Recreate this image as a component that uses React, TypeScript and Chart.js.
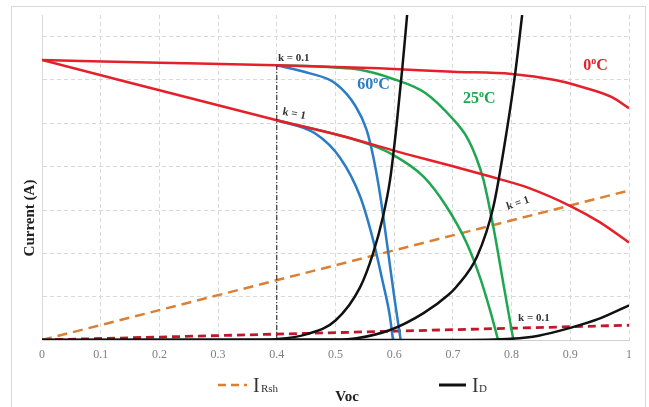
import React, { useEffect, useRef } from "react";
import { Chart, registerables } from "chart.js";

Chart.register(...registerables);

// ---- Data ----
const xTickLabels = ["0", "0.1", "0.2", "0.3", "0.4", "0.5", "0.6", "0.7", "0.8", "0.9", "1"];

// 0°C curves (red)
const red01V = [0, 0.2, 0.4, 0.574, 0.7, 0.8, 0.874, 0.92, 0.97, 1.0];
const red01I = [6.46, 6.4, 6.34, 6.27, 6.19, 6.14, 6.0, 5.84, 5.61, 5.35];
const red1V = [0, 0.4, 0.508, 0.621, 0.7, 0.775, 0.831, 0.902, 0.95, 1.0];
const red1I = [6.46, 5.07, 4.72, 4.29, 4.01, 3.73, 3.5, 3.08, 2.72, 2.25];

// 60°C curves (blue) — below 0.4 V they lie under the red curves
const blue01V = [0.4, 0.455, 0.5, 0.534, 0.553, 0.564, 0.576, 0.588, 0.6, 0.611];
const blue01I = [6.34, 6.16, 5.92, 5.4, 4.85, 4.25, 3.35, 2.2, 1.0, 0];
const blue1V = [0.4, 0.465, 0.508, 0.542, 0.564, 0.581, 0.592, 0.598];
const blue1I = [5.07, 4.77, 4.2, 3.31, 2.31, 1.31, 0.6, 0];

// 25°C curves (green)
const green01V = [0.4, 0.5, 0.54, 0.597, 0.653, 0.7, 0.723, 0.74, 0.752, 0.769, 0.786, 0.803];
const green01I = [6.34, 6.29, 6.24, 6.03, 5.7, 5.1, 4.7, 4.2, 3.7, 2.6, 1.3, 0];
const green1V = [0.4, 0.508, 0.55, 0.593, 0.65, 0.689, 0.723, 0.746, 0.763, 0.777];
const green1I = [5.07, 4.72, 4.55, 4.31, 3.77, 3.08, 2.25, 1.45, 0.7, 0];

// Diode currents I_D (black)
const diode1V = [0, 0.35, 0.4, 0.45, 0.5, 0.542, 0.564, 0.581, 0.593, 0.604, 0.614, 0.622];
const diode1I = [0, 0, 0.02, 0.13, 0.45, 1.22, 2.0, 2.85, 3.7, 4.95, 6.3, 7.5];
const diode2V = [0, 0.5, 0.536, 0.593, 0.65, 0.693, 0.706, 0.741, 0.769, 0.792, 0.806, 0.818];
const diode2I = [0, 0.01, 0.04, 0.23, 0.62, 1.05, 1.23, 1.92, 3.08, 4.85, 6.14, 7.5];
const diode3V = [0, 0.7, 0.8, 0.846, 0.9, 0.947, 1.0];
const diode3I = [0, 0, 0.03, 0.1, 0.28, 0.48, 0.8];

// Shunt currents I_Rsh (dashed)
const rshK1V = [0, 1];
const rshK1I = [0, 3.45];
const rshK01V = [0, 1];
const rshK01I = [0, 0.34];

// Vertical marker at V = 0.4
const markerV = [0.4, 0.4];
const markerI = [0, 6.33];

// Text annotations (data coordinates)
const annotations = [
  { parts: [["k = 0.1", 11]], v: 0.402, i: 6.51, color: "#333333", rot: 0 },
  { parts: [["k = 1", 11]], v: 0.41, i: 5.27, color: "#333333", rot: 0.2 },
  { parts: [["60", 16], ["o", 10], ["C", 16]], v: 0.537, i: 5.88, color: "#2a7cc4", rot: 0 },
  { parts: [["25", 16], ["o", 10], ["C", 16]], v: 0.717, i: 5.56, color: "#1fa651", rot: 0 },
  { parts: [["0", 16], ["o", 10], ["C", 16]], v: 0.922, i: 6.32, color: "#e5202a", rot: 0 },
  { parts: [["k = 1", 11]], v: 0.792, i: 3.07, color: "#333333", rot: -0.32 },
  { parts: [["k = 0.1", 11]], v: 0.811, i: 0.51, color: "#333333", rot: 0 },
];

const pts = (xs: number[], ys: number[]) => xs.map((x, k) => ({ x, y: ys[k] }));

const RED = "#e5202a";
const BLUE = "#2a7cc4";
const GREEN = "#1fa651";
const BLACK = "#111111";
const ORANGE = "#dc7f33";
const DARKRED = "#c0182a";
const SERIF = "'Liberation Serif', 'Times New Roman', serif";

const curve = (label: string, data: any, color: string, extra: any = {}) => ({
  label,
  data,
  borderColor: color,
  backgroundColor: color,
  borderWidth: 2.5,
  pointRadius: 0,
  cubicInterpolationMode: "monotone",
  fill: false,
  ...extra,
});

const drawRich = (ctx: CanvasRenderingContext2D, parts: any[], x: number, y: number) => {
  let cx = x;
  for (const [t, size] of parts) {
    ctx.font = `bold ${size}px ${SERIF}`;
    const dy = size < 12 && parts.length > 1 ? -5 : 0;
    ctx.fillText(t, cx, y + dy);
    cx += ctx.measureText(t).width;
  }
};

const decorPlugin = {
  id: "decor",
  beforeDraw(chart: any) {
    const ctx = chart.ctx as CanvasRenderingContext2D;
    ctx.save();
    ctx.fillStyle = "#ffffff";
    ctx.fillRect(0, 0, chart.width, chart.height);
    ctx.strokeStyle = "#d9d9d9";
    ctx.lineWidth = 1;
    ctx.strokeRect(11.5, 6.5, 634, 420);
    ctx.restore();
  },
  afterDatasetsDraw(chart: any) {
    const ctx = chart.ctx as CanvasRenderingContext2D;
    const xs = chart.scales.x;
    const ys = chart.scales.y;
    ctx.save();
    ctx.textBaseline = "middle";
    ctx.textAlign = "left";
    for (const a of annotations) {
      const px = xs.getPixelForValue(a.v);
      const py = ys.getPixelForValue(a.i);
      ctx.save();
      ctx.translate(px, py);
      ctx.rotate(a.rot);
      ctx.fillStyle = a.color;
      drawRich(ctx, a.parts, 0, 0);
      ctx.restore();
    }

    // y-axis title
    ctx.save();
    ctx.translate(30, 218);
    ctx.rotate(-Math.PI / 2);
    ctx.textAlign = "center";
    ctx.fillStyle = "#222222";
    ctx.font = `bold 15px ${SERIF}`;
    ctx.fillText("Current (A)", 0, 0);
    ctx.restore();

    // x-axis title
    ctx.textAlign = "center";
    ctx.fillStyle = "#222222";
    ctx.font = `bold 15px ${SERIF}`;
    ctx.fillText("Voc", 347, 397);

    // legend
    ctx.textAlign = "left";
    ctx.textBaseline = "alphabetic";
    ctx.lineWidth = 2.5;
    ctx.strokeStyle = ORANGE;
    ctx.setLineDash([8, 5]);
    ctx.beginPath();
    ctx.moveTo(218, 385);
    ctx.lineTo(247, 385);
    ctx.stroke();
    ctx.setLineDash([]);
    ctx.strokeStyle = BLACK;
    ctx.lineWidth = 3;
    ctx.beginPath();
    ctx.moveTo(439, 385);
    ctx.lineTo(466, 385);
    ctx.stroke();
    ctx.fillStyle = "#333333";
    ctx.font = `20px ${SERIF}`;
    ctx.fillText("I", 253, 392);
    ctx.fillText("I", 472, 392);
    ctx.font = `11px ${SERIF}`;
    ctx.fillText("Rsh", 261, 392);
    ctx.fillText("D", 479, 392);
    ctx.restore();
  },
};

export default function App() {
  const ref = useRef<HTMLCanvasElement>(null);
  useEffect(() => {
    if (!ref.current) return;
    const chart = new Chart(ref.current, {
      type: "line",
      data: {
        datasets: [
          {
            label: "marker",
            data: pts(markerV, markerI),
            borderColor: "#111111",
            borderWidth: 1,
            borderDash: [5, 2, 1, 2],
            pointRadius: 0,
            tension: 0,
            fill: false,
          },
          curve("ID 60", pts(diode1V, diode1I), BLACK),
          curve("ID 25", pts(diode2V, diode2I), BLACK),
          curve("ID 0", pts(diode3V, diode3I), BLACK),
          curve("0C k=0.1", pts(red01V, red01I), RED),
          curve("0C k=1", pts(red1V, red1I), RED),
          curve("60C k=0.1", pts(blue01V, blue01I), BLUE),
          curve("60C k=1", pts(blue1V, blue1I), BLUE),
          curve("25C k=0.1", pts(green01V, green01I), GREEN),
          curve("25C k=1", pts(green1V, green1I), GREEN),
          curve("IRsh k=0.1", pts(rshK01V, rshK01I), DARKRED, { borderDash: [8, 5], borderWidth: 2.8, tension: 0, cubicInterpolationMode: "default" }),
          curve("IRsh k=1", pts(rshK1V, rshK1I), ORANGE, { borderDash: [10, 6], borderWidth: 2.5, tension: 0, cubicInterpolationMode: "default" }),
        ],
      },
      options: {
        responsive: false,
        animation: false,
        devicePixelRatio: 1,
        layout: { padding: { top: 15, right: 20, left: 0, bottom: 0 } },
        plugins: { legend: { display: false }, tooltip: { enabled: false } },
        scales: {
          x: {
            type: "linear",
            min: 0,
            max: 1,
            afterFit: (s: any) => {
              s.height = 67;
            },
            ticks: {
              stepSize: 0.1,
              autoSkip: false,
              maxRotation: 0,
              padding: 8,
              color: "#7f7f7f",
              font: { family: SERIF, size: 12 },
              callback: (_v: any, idx: number) => xTickLabels[idx] ?? "",
            },
            grid: {
              drawTicks: false,
              color: (c: any) => (c.tick && c.tick.value > 0.001 ? "#d9d9d9" : "rgba(0,0,0,0)"),
              lineWidth: 1,
            },
            border: { display: true, color: "#d0d0d0", width: 1, dash: [4, 3] },
          },
          y: {
            type: "linear",
            min: 0,
            max: 7.5,
            afterFit: (s: any) => {
              s.width = 42;
            },
            ticks: { display: false, stepSize: 1 },
            grid: {
              drawTicks: false,
              color: (c: any) =>
                c.tick && Number.isInteger(c.tick.value) && c.tick.value !== 0 ? "#d9d9d9" : "rgba(0,0,0,0)",
              lineWidth: 1,
            },
            border: { display: true, color: "#d9d9d9", width: 1, dash: [4, 3] },
          },
        },
      } as any,
      plugins: [decorPlugin],
    });
    return () => chart.destroy();
  }, []);
  return (
    <div style={{ position: "fixed", left: 0, top: 0, width: 649, height: 407, background: "#fff" }}>
      <canvas ref={ref} width={649} height={407} style={{ display: "block", width: 649, height: 407 }} />
    </div>
  );
}
